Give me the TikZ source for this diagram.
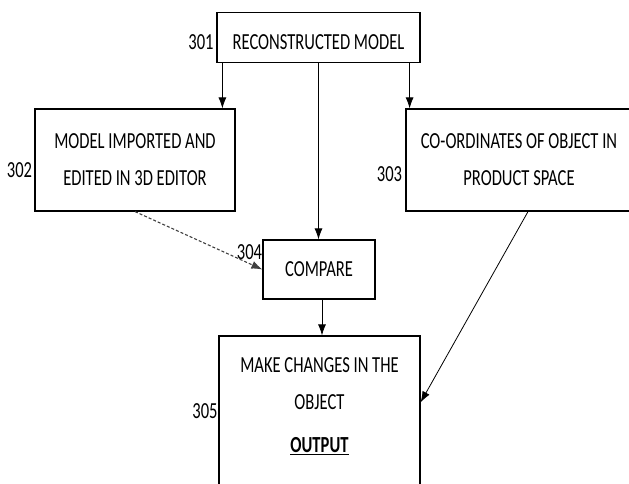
\documentclass[tikz,border=0pt]{standalone}
\usepackage{fontspec}
\setmainfont[FakeStretch=0.72]{Carlito}
\usetikzlibrary{arrows.meta}
\begin{document}
\begin{tikzpicture}[x=1pt,y=-1pt,
  font=\fontsize{23}{37}\selectfont,
  box/.style={draw,line width=1.2pt,rectangle,inner sep=0pt,align=center},
  lbl/.style={anchor=base,inner sep=0pt},
  arr/.style={line width=0.8pt,-{Latex[length=11pt,width=8pt]}},
  darr/.style={line width=1.1pt,black!75,densely dashed,-{Latex[length=11pt,width=8pt]}}]
\useasboundingbox[fill=white] (0,0) rectangle (629,484);
\node[box,minimum width=203pt,minimum height=50pt,text height=25pt,text depth=0pt] (n301) at (318.5,37.5) {RECONSTRUCTED MODEL};
\node[box,minimum width=200pt,minimum height=102pt] (n302) at (135,160) {MODEL IMPORTED AND\\EDITED IN 3D EDITOR};
\node[box,minimum width=226pt,minimum height=102pt] (n303) at (519,160) {CO-ORDINATES OF OBJECT IN\\PRODUCT SPACE};
\node[box,minimum width=112pt,minimum height=59pt] (n304) at (319,269.5) {COMPARE};
\node[box,minimum width=201pt,minimum height=160pt] (n305) at (319.5,416) {};
\node[align=center,inner sep=0pt] (t305) at (319.5,406) {MAKE CHANGES IN THE\\OBJECT\\[6pt]\textbf{\underline{OUTPUT}}};
\node[lbl] (l301) at (201,50) {301};
\node[lbl] (l302) at (19.5,177) {302};
\node[lbl] (l303) at (389.5,182) {303};
\node[lbl] (l304) at (249.5,259) {304};
\node[lbl] (l305) at (205,418) {305};
\draw[arr] ([xshift=6pt]n301.south west) -- ([xshift=6pt]n301.south west |- n302.north);
\draw[arr] (n301.south) -- (n301.south |- n304.north);
\draw[arr] ([xshift=-11pt]n301.south east) -- ([xshift=-11pt]n301.south east |- n303.north);
\draw[arr] ([xshift=3pt]n304.south) -- ([xshift=3pt]n304.south |- n305.north);
\draw[darr] (n302.south) -- (n304.west);
\draw[arr] ([xshift=9pt]n303.south) -- ([yshift=-67pt]n305.north east);
\end{tikzpicture}
\end{document}
